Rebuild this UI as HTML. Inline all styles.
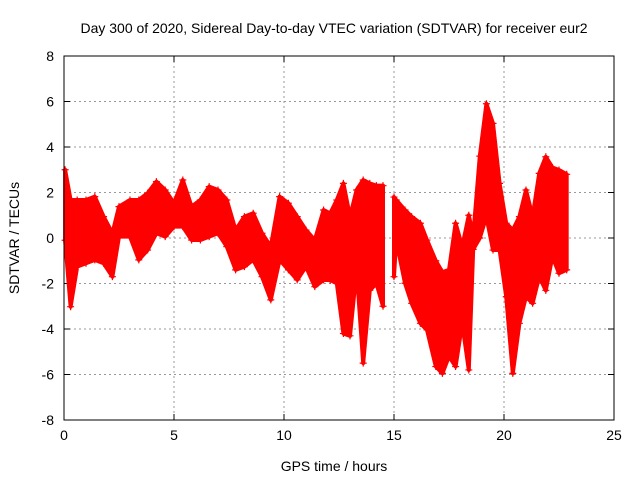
<!DOCTYPE html>
<html><head><meta charset="utf-8"><style>
body{margin:0;background:#fff}
svg text{font-family:"Liberation Sans",sans-serif;font-size:14px;fill:#000}
</style></head><body>
<svg id="c" width="640" height="480" xmlns="http://www.w3.org/2000/svg">
<text x="334" y="33" text-anchor="middle">Day 300 of 2020, Sidereal Day-to-day VTEC variation (SDTVAR) for receiver eur2</text>
<text x="334" y="471" text-anchor="middle">GPS time / hours</text>
<text transform="translate(19,238) rotate(-90)" text-anchor="middle">SDTVAR / TECUs</text>
<g id="grid"></g><g id="ticks"></g><g id="marks"></g>
<rect x="64" y="56" width="550" height="364" fill="none" stroke="#000"/>
</svg>
<script>
const xTicks=[0,5,10,15,20,25];
const yTicks=[-8,-6,-4,-2,0,2,4,6,8];
const segA_t  =[0.05,0.3,0.6,1.0,1.4,1.8,2.2,2.5,3.0,3.4,3.8,4.2,4.6,5.0,5.4,5.8,6.2,6.6,7.0,7.4,7.8,8.2,8.6,9.0,9.4,9.8,10.2,10.6,11.0,11.4,11.8,12.1,12.4,12.7,13.0,13.3,13.6,13.9,14.2,14.5];
const segA_hi =[3.0,1.67,1.67,1.67,1.82,0.94,0.21,1.38,1.67,1.67,1.97,2.48,2.11,1.53,2.55,1.38,1.67,2.26,2.11,1.67,0.35,0.94,1.09,0.21,-0.38,1.82,1.53,0.94,0.35,-0.09,1.23,1.08,1.67,2.4,0.94,2.11,2.55,2.4,2.3,2.3];
const segA_lo =[-0.1,-3.02,-1.26,-1.11,-0.96,-1.11,-1.70,0.06,0.06,-0.96,-0.53,0.21,0.06,0.5,0.5,-0.09,-0.09,0.06,0.21,-0.38,-1.4,-1.26,-0.96,-1.7,-2.72,-0.96,-1.4,-1.84,-1.26,-2.14,-1.84,-1.85,-1.99,-4.2,-4.3,-1.4,-5.5,-2.3,-2.0,-3.0];
const segB_t  =[15.0,15.1,15.5,15.8,16.2,16.5,16.9,17.2,17.5,17.8,18.1,18.4,18.6,18.9,19.2,19.5,19.8,20.1,20.4,20.7,21.0,21.3,21.6,21.9,22.2,22.5,22.85];
const segB_hi =[1.8,1.67,1.23,0.94,0.65,-0.09,-1.0,-1.5,-1.4,0.65,-0.38,1.0,0.1,3.6,5.9,5.04,2.4,0.65,0.35,0.94,2.11,0.94,2.84,3.57,3.1,2.99,2.8];
const segB_lo =[-1.7,-0.09,-1.99,-2.87,-3.75,-4.04,-5.65,-5.95,-5.2,-5.65,-3.75,-5.8,-0.5,0.0,0.94,-0.53,-0.53,-2.58,-5.95,-3.75,-2.58,-2.87,-1.7,-2.3,-0.82,-1.55,-1.4];
const X0=64,X1=614,Y0=420,Y1=56;
const xs=v=>X0+(v-0)/(25-0)*(X1-X0);
const ys=v=>Y0-(v+8)/16*(Y0-Y1);
const NS="http://www.w3.org/2000/svg";
const g=document.getElementById('grid'),tk=document.getElementById('ticks'),mk=document.getElementById('marks');
function el(t,a,p){const e=document.createElementNS(NS,t);for(const k in a)e.setAttribute(k,a[k]);p.appendChild(e);return e;}
xTicks.forEach(v=>{
 const x=xs(v);
 if(v>0&&v<25){const l=el('line',{x1:x,x2:x,y1:Y1,y2:Y0,stroke:'#999','stroke-dasharray':'2,3'},g);
 
 }
 const m=el('path',{d:`M${x},${Y0}v-6M${x},${Y1}v6`,stroke:'#000'},tk);
 
 
 const t=el('text',{x:x,y:Y0+20,'text-anchor':'middle'},tk);t.textContent=v;
 
 
});
yTicks.forEach(v=>{
 const y=ys(v);
 if(v>-8&&v<8){const l=el('line',{x1:X0,x2:X1,y1:y,y2:y,stroke:'#999','stroke-dasharray':'2,3'},g);
 
 }
 const m=el('path',{d:`M${X0},${y}h6M${X1},${y}h-6`,stroke:'#000'},tk);
 
 
 const t=el('text',{x:X0-10,y:y+5,'text-anchor':'end'},tk);t.textContent=v;
 
 
});
function band(T,H,L,name){
 let pts=T.map((t,i)=>xs(t)+','+ys(H[i])).concat(T.map((t,i)=>xs(t)+','+ys(L[i])).reverse());
 const p=el('polygon',{points:pts.join(' '),fill:'#f00',stroke:'#f00','stroke-width':4,'stroke-linejoin':'round'},mk);
 
 
 let d='';
 T.forEach((t,i)=>{
  [H[i],L[i]].forEach(v=>{const x=xs(t),y=ys(v);d+=`M${x-3.5},${y}h7M${x},${y-3.5}v7`;});
 });
 const m=el('path',{d:d,stroke:'#f00','stroke-width':1.2,fill:'none'},mk);
 
 
}
band(segA_t,segA_hi,segA_lo,'sdtvar-early');
band(segB_t,segB_hi,segB_lo,'sdtvar-late');
</script>
</body></html>
